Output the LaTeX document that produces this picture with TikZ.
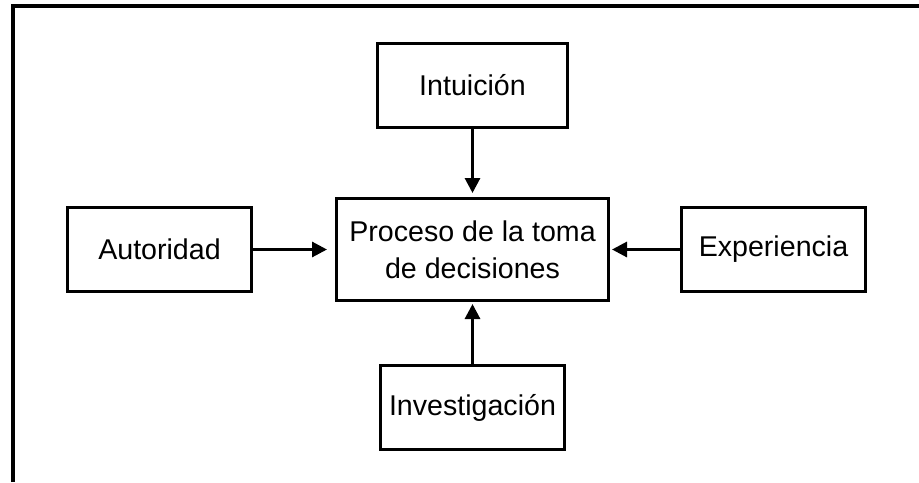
\documentclass[tikz,border=0pt]{standalone}
\usepackage{fontspec}
\setmainfont{Liberation Sans}
\usepackage{xcolor}
\definecolor{cLine}{HTML}{000000}
\usepackage{tikz}
\usetikzlibrary{positioning,arrows.meta}
\tikzset{
  node-box/.style={draw=cLine,line width=1.5pt,minimum width=92pt,
    minimum height=42pt,align=center,font=\fontsize{14.3}{18.5}\selectfont},
  node-main/.style={minimum width=136pt,minimum height=51pt},
  arrow/.style={-{Triangle[length=7.5pt,width=7.5pt]},line width=1.5pt,draw=cLine,shorten >=2pt},
  frame-line/.style={draw=cLine,line width=2pt},
}
\begin{document}
\begin{tikzpicture}[x=0.5pt,y=-0.5pt,node distance=34pt and 38pt]
  \useasboundingbox (0,0) rectangle (919,482);
  % marco (solo se ven los lados izquierdo y superior)
  \draw[frame-line] (12.5,482) |- (919,5.5);
  \node[node-box,node-main] (proc) at (472.5,249.5) {Proceso de la toma\\de decisiones};
  \node[node-box,minimum width=95pt,above=34pt of proc] (intu) {Intuición};
  \node[node-box,left=41pt of proc]  (auto) {Autoridad};
  \node[node-box,right=35pt of proc] (expe) {Experiencia};
  \node[node-box,below=31pt of proc] (inve) {Investigación};
  \draw[arrow] (intu.south) -- (proc.north);
  \draw[arrow,shorten >=4pt] (auto.east) -- (auto.east -| proc.west);
  \draw[arrow,shorten >=1pt] (expe.west) -- (expe.west -| proc.east);
  \draw[arrow,shorten >=1pt] (inve.north) -- (proc.south);
\end{tikzpicture}
\end{document}
